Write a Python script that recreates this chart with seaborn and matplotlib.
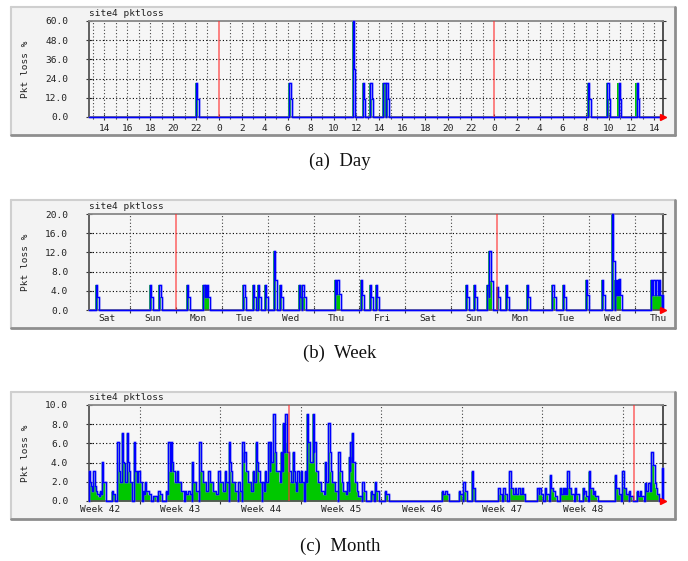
import matplotlib
matplotlib.use('Agg')
import matplotlib.pyplot as plt
import seaborn as sns
from matplotlib.patches import Rectangle
from matplotlib.lines import Line2D

# ---- data -------------------------------------------------------------
# Day graph: hours relative to the first midnight
day_hours = [-2.0, 6.15, 11.67, 12.54, 13.22, 14.35, 14.6, 32.2, 33.9, 34.87, 36.44]
day_peak = [21, 21, 60, 21, 21, 21, 21, 21, 21, 21, 21]
day_tail = [11, 11, 30, 11, 11, 21, 11, 11, 11, 11, 11]
day_ticks = [-10, -8, -6, -4, -2, 0, 2, 4, 6, 8, 10, 12, 14, 16, 18, 20, 22,
             24, 26, 28, 30, 32, 34, 36, 38]

# Week graph: days relative to the first Monday midnight
week_days = [-1.74, -0.56, -0.36, 0.24, 0.60, 0.64, 0.68, 1.47, 1.68, 1.79, 1.94,
             2.14, 2.27, 2.68, 2.76, 3.47, 3.52, 4.03, 4.23, 4.35, 6.32, 6.49,
             6.78, 6.83, 6.99, 7.18, 7.64, 8.20, 8.42, 8.93, 9.27, 9.49, 9.56,
             9.60, 9.64, 10.34, 10.40, 10.46, 10.51, 10.58]
week_peak = [5.3, 5.3, 5.3, 5.3, 5.3, 5.3, 5.3, 5.3, 5.3, 5.3, 5.3,
             12.3, 5.3, 5.3, 5.3, 6.2, 6.2, 6.2, 5.3, 5.3, 5.3, 5.3,
             5.3, 12.3, 4.8, 5.3, 5.3, 5.3, 5.3, 6.2, 6.2, 20.0, 6.2,
             6.2, 6.5, 6.2, 6.2, 6.2, 6.2, 3.1]
week_tail = [2.7, 2.7, 2.7, 2.7, 2.7, 2.7, 2.7, 2.7, 2.7, 2.7, 2.7,
             6.2, 2.7, 2.7, 2.7, 3.3, 3.3, 3.1, 2.7, 2.7, 2.7, 2.7,
             2.7, 6.0, 2.7, 2.7, 2.7, 2.7, 2.7, 3.1, 3.1, 10.2, 3.1,
             3.1, 3.1, 3.1, 3.1, 3.1, 3.1, 3.1]
week_names = ['Sat', 'Sun', 'Mon', 'Tue', 'Wed', 'Thu', 'Fri',
              'Sat', 'Sun', 'Mon', 'Tue', 'Wed', 'Thu']

# Month graph: days since Monday of week 42
month_days = [2.57, 2.74, 2.94, 3.09, 3.29, 3.52, 3.70, 4.54, 5.03, 5.17, 5.43,
              5.61, 5.87, 6.02, 6.48, 6.65, 6.86, 7.23, 7.43, 7.63, 8.16, 8.59,
              9.26, 9.46, 9.70, 9.90, 10.19, 10.48, 10.91, 11.20, 11.52, 11.78,
              12.16, 12.37, 12.65, 12.94, 13.23, 13.52, 13.81, 14.10, 14.39,
              14.74, 14.88, 15.17, 15.55, 15.90, 16.07, 16.28, 16.57, 16.80,
              17.06, 17.29, 17.64, 17.87, 18.16, 18.30, 18.59, 18.74, 19.03,
              19.23, 19.41, 19.64, 19.81, 19.99, 20.28, 20.48, 20.68, 20.97,
              21.35, 21.50, 21.70, 22.01, 22.16, 22.36, 22.65, 22.85, 23.09,
              23.38, 23.58, 23.87, 24.25, 24.54, 24.83, 25.03, 25.17, 25.29,
              25.43, 25.55, 25.76, 25.99, 26.33, 27.06, 27.43, 28.30, 33.23,
              33.55, 34.74, 35.11, 35.84, 38.16, 38.59, 39.11, 39.32, 39.61,
              39.90, 40.19, 41.55, 41.72, 42.22, 42.65, 42.94, 43.52, 43.76,
              43.96, 44.16, 44.39, 44.83, 45.49, 45.64, 46.02, 46.28, 46.48,
              48.30, 48.54, 48.94, 49.17, 49.52, 50.19, 50.48, 50.91, 51.20,
              51.46, 51.64, 51.84, 52.42]
month_loss = [3.1, 1.6, 3.1, 1.6, 0.7, 1.0, 4.1, 1.0, 6.1, 3.1, 7.1,
              4.0, 7.1, 3.1, 6.1, 3.1, 3.1, 1.0, 2.0, 1.0, 0.5, 1.0,
              1.0, 6.1, 6.1, 3.1, 3.1, 2.0, 1.0, 1.0, 4.1, 2.0,
              6.1, 3.1, 2.0, 3.1, 2.0, 1.0, 3.1, 2.0, 3.1,
              6.1, 3.1, 2.0, 2.0, 6.1, 5.1, 3.1, 2.0, 3.1,
              6.1, 3.1, 2.0, 3.1, 6.1, 6.1, 9.1, 5.1, 3.1,
              5.1, 8.1, 9.1, 5.1, 3.1, 5.1, 2.0, 3.1, 3.1,
              3.1, 9.1, 6.1, 9.1, 6.1, 3.1, 2.0, 1.0, 4.1,
              8.1, 3.1, 2.0, 5.1, 2.0, 1.0, 2.0, 4.6, 6.1,
              7.1, 4.1, 2.0, 0.5, 2.0, 1.0, 2.0, 1.0, 1.0,
              1.0, 1.0, 2.0, 3.1, 1.4, 1.4, 3.1, 1.4, 1.4,
              1.4, 1.4, 1.4, 1.4, 1.4, 2.7, 1.0, 1.4, 1.4,
              1.4, 3.1, 1.4, 1.4, 1.4, 1.0, 3.1, 1.4, 1.0,
              2.7, 1.4, 3.1, 1.4, 1.0, 1.0, 1.0, 1.9, 1.9,
              5.1, 3.8, 1.4, 3.4]
month_tail = [2.0, 1.0, 2.0, 1.0, 0.5, 0.7, 2.0, 0.7, 4.1, 2.0, 4.1,
              2.0, 4.1, 2.0, 3.1, 2.0, 2.0, 0.7, 1.0, 0.7, 0.5, 0.7,
              0.7, 3.1, 4.1, 2.0, 2.0, 1.0, 0.7, 0.7, 2.0, 1.0,
              3.1, 2.0, 1.0, 2.0, 1.0, 0.7, 2.0, 1.0, 2.0,
              4.1, 2.0, 1.0, 1.0, 4.1, 3.1, 2.0, 1.0, 2.0,
              4.1, 2.0, 1.0, 2.0, 3.1, 4.1, 5.1, 3.1, 2.0,
              3.1, 5.1, 6.1, 3.1, 2.0, 3.1, 1.0, 2.0, 2.0,
              2.0, 6.1, 4.1, 5.1, 3.1, 2.0, 1.0, 0.7, 2.0,
              5.1, 2.0, 1.0, 3.1, 1.0, 0.7, 1.0, 3.1, 4.1,
              4.1, 2.0, 1.0, 0.5, 1.0, 0.7, 1.0, 0.7, 0.7,
              0.7, 0.7, 1.0, 1.4, 0.7, 0.7, 1.4, 0.7, 0.7,
              0.7, 0.7, 0.7, 0.7, 0.7, 1.4, 0.5, 0.7, 0.7,
              0.7, 1.4, 0.7, 0.7, 0.7, 0.5, 1.4, 0.7, 0.5,
              1.4, 0.7, 1.4, 0.7, 0.5, 0.5, 0.5, 1.0, 1.0,
              3.8, 1.9, 0.7, 1.7]
month_weeks = ['Week 42', 'Week 43', 'Week 44', 'Week 45', 'Week 46', 'Week 47', 'Week 48']

# ---- helpers ----------------------------------------------------------
W, H = 688, 561
MONO = 'DejaVu Sans Mono'
FS = 6.8

sns.set_theme(style='white')
plt.rcParams['font.family'] = ['DejaVu Sans']

fig = plt.figure(figsize=(W / 100, H / 100), dpi=100)
fig.patch.set_facecolor('white')


def step_path(t, peak, tail, wp, wt, lo, hi):
    xs, ys = [lo], [0.0]
    for i in range(len(t)):
        nxt = t[i + 1] if i + 1 < len(t) else hi
        a = t[i]
        b = min(a + wp, nxt)
        c = min(a + wp + wt, nxt)
        xs += [a, a, b, b, c]
        ys += [ys[-1], peak[i], peak[i], tail[i], tail[i]]
        if c < nxt:
            xs.append(c)
            ys.append(0.0)
    xs.append(hi)
    ys.append(0.0)
    return xs, ys


def make_panel(box_top, box_bot, top, bot, title):
    # rrdtool canvas with bevelled border
    x0, x1 = 11, 675
    fig.add_artist(Rectangle((x0 / W, 1 - box_bot / H), (x1 - x0) / W, (box_bot - box_top) / H,
                             transform=fig.transFigure, facecolor='#F3F3F3', edgecolor='none', zorder=0))
    fig.add_artist(Line2D([x0 / W, x1 / W], [1 - box_top / H] * 2, transform=fig.transFigure,
                          color='#CFCFCF', lw=1.5, zorder=1))
    fig.add_artist(Line2D([x0 / W] * 2, [1 - box_top / H, 1 - box_bot / H], transform=fig.transFigure,
                          color='#CFCFCF', lw=1.5, zorder=1))
    fig.add_artist(Line2D([x0 / W, x1 / W], [1 - box_bot / H] * 2, transform=fig.transFigure,
                          color='#8E8E8E', lw=2, zorder=1))
    fig.add_artist(Line2D([x1 / W] * 2, [1 - box_top / H, 1 - box_bot / H], transform=fig.transFigure,
                          color='#8E8E8E', lw=2, zorder=1))
    ax = fig.add_axes([89 / W, 1 - bot / H, 574 / W, (bot - top) / H])
    ax.set_facecolor('#F6F6F6')
    ax.set_zorder(2)
    for side, col in [('left', '#555555'), ('bottom', '#555555'), ('top', '#888888'), ('right', '#444444')]:
        ax.spines[side].set_color(col)
        ax.spines[side].set_linewidth(1.3)
    fig.text(89 / W, 1 - (top - 7) / H, title, family=MONO, fontsize=FS, ha='left', va='center', color='#222222')
    fig.text(25 / W, 1 - (top + bot) / 2 / H, 'Pkt loss %', family=MONO, fontsize=FS,
             rotation=90, ha='center', va='center', color='#222222')
    return ax


def style_axis(ax, ymax, ystep, xlo, xhi, vgrid, midnights):
    ax.set_xlim(xlo, xhi)
    ax.set_ylim(0, ymax)
    yt = [i * ystep for i in range(int(round(ymax / ystep)) + 1)]
    ax.set_yticks(yt)
    ax.set_yticklabels(['%.1f' % v for v in yt], family=MONO, fontsize=FS, color='#222222')
    for v in yt[1:-1]:
        ax.axhline(v, color='black', lw=0.8, ls=(0, (1, 2)), zorder=1)
    for v in vgrid:
        ax.axvline(v, color='#444444', lw=0.8, ls=(0, (1, 2)), zorder=1)
    for m in midnights:
        ax.axvline(m, color='#FF3030', lw=1.1, alpha=0.75, zorder=5)
    ax.tick_params(axis='y', which='both', direction='inout', length=4, width=0.8, color='#333333',
                   pad=13, right=True, left=True)
    ax.tick_params(axis='x', which='both', direction='inout', length=4, width=0.8, color='#333333',
                   pad=3, bottom=True)
    ax.tick_params(axis='x', labelsize=FS, labelcolor='#222222')
    ax.plot([xhi], [0], marker='>', color='#FF0000', ms=5, clip_on=False, zorder=6)


def draw_series(ax, xs, ys, shift):
    gx = [x - shift for x in xs]
    ax.fill_between(gx, ys, 0, color='#00C800', lw=0, zorder=2)
    sns.lineplot(x=xs, y=ys, sort=False, estimator=None, ax=ax, color='#7878FF',
                 lw=2.2, alpha=0.35, zorder=3)
    sns.lineplot(x=xs, y=ys, sort=False, estimator=None, ax=ax, color='#0000FF',
                 lw=1.0, zorder=4)
    for ln in ax.get_lines():
        ln.set_clip_on(False)
    ax.set_xlabel('')
    ax.set_ylabel('')


# ---- (a) Day ----------------------------------------------------------
d_lo, d_hi = -11.34, 38.75
ax = make_panel(7, 135, 21, 117, 'site4 pktloss')
xs, ys = step_path(day_hours, day_peak, day_tail, 0.12, 0.12, d_lo, d_hi)
draw_series(ax, xs, ys, 0.1)
style_axis(ax, 60, 12, d_lo, d_hi, [h for h in range(-11, 39) if h % 24 != 0], [0, 24])
ax.set_xticks(day_ticks)
ax.set_xticklabels([str(h % 24) for h in day_ticks], family=MONO, fontsize=FS)
ax.set_xticks(list(range(-11, 39)), minor=True)
ax.tick_params(axis='x', which='minor', length=3)

# ---- (b) Week ---------------------------------------------------------
w_lo, w_hi = -1.887, 10.607
ax = make_panel(200, 328, 214, 310, 'site4 pktloss')
xs, ys = step_path(week_days, week_peak, week_tail, 0.03, 0.04, w_lo, w_hi)
draw_series(ax, xs, ys, 0.022)
style_axis(ax, 20, 4, w_lo, w_hi, [d for d in range(-1, 11) if d % 7 != 0], [0, 7])
ax.set_xticks([d + 0.5 for d in range(-2, 11)])
ax.set_xticklabels(week_names, family=MONO, fontsize=FS)
ax.set_xticks(list(range(-1, 11)), minor=True)
ax.tick_params(axis='x', which='major', length=0)

# ---- (c) Month --------------------------------------------------------
m_lo, m_hi = 2.565, 52.48
ax = make_panel(392, 519, 405, 501, 'site4 pktloss')
xs, ys = step_path(month_days, month_loss, month_tail, 0.12, 0.2, m_lo, m_hi)
draw_series(ax, xs, ys, 0.08)
style_axis(ax, 10, 2, m_lo, m_hi, [7, 14, 21, 28, 35, 42, 49], [20, 50])
ax.set_xticks([3.5 + 7 * i for i in range(7)])
ax.set_xticklabels(month_weeks, family=MONO, fontsize=FS)
ax.set_xticks([7, 14, 21, 28, 35, 42, 49], minor=True)
ax.tick_params(axis='x', which='major', length=0)

# ---- captions ---------------------------------------------------------
for y, cap in [(161, '(a)  Day'), (353, '(b)  Week'), (546, '(c)  Month')]:
    fig.text(340 / W, 1 - y / H, cap, family='Liberation Serif', fontsize=13.5,
             ha='center', va='center', color='#111111')

fig.savefig('out.png', dpi=100)
